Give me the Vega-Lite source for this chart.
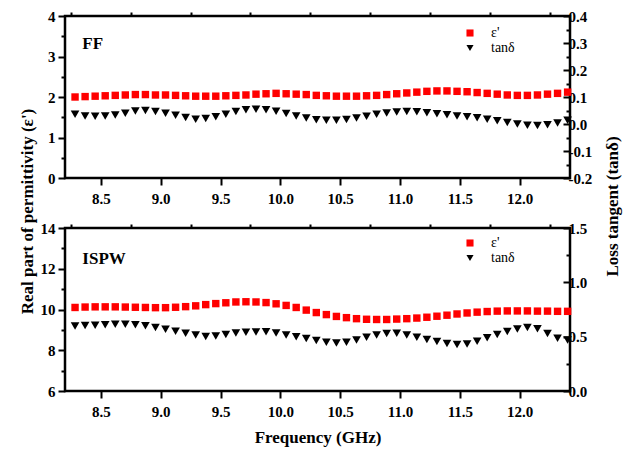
{
  "$schema": "https://vega.github.io/schema/vega-lite/v6.json",
  "padding": {"left": 16, "top": 7, "right": 5, "bottom": 3},
  "background": "white",
  "datasets": {
    "ff": [
      {"f": 8.284, "eps": 2.00, "tan": 0.036},
      {"f": 8.368, "eps": 2.01, "tan": 0.030},
      {"f": 8.452, "eps": 2.02, "tan": 0.029},
      {"f": 8.536, "eps": 2.03, "tan": 0.030},
      {"f": 8.62, "eps": 2.04, "tan": 0.033},
      {"f": 8.704, "eps": 2.05, "tan": 0.040},
      {"f": 8.788, "eps": 2.06, "tan": 0.048},
      {"f": 8.872, "eps": 2.06, "tan": 0.050},
      {"f": 8.956, "eps": 2.05, "tan": 0.046},
      {"f": 9.04, "eps": 2.05, "tan": 0.040},
      {"f": 9.124, "eps": 2.04, "tan": 0.032},
      {"f": 9.208, "eps": 2.03, "tan": 0.024},
      {"f": 9.292, "eps": 2.02, "tan": 0.018},
      {"f": 9.376, "eps": 2.02, "tan": 0.020},
      {"f": 9.46, "eps": 2.02, "tan": 0.027},
      {"f": 9.544, "eps": 2.03, "tan": 0.036},
      {"f": 9.628, "eps": 2.04, "tan": 0.046},
      {"f": 9.712, "eps": 2.05, "tan": 0.053},
      {"f": 9.796, "eps": 2.07, "tan": 0.055},
      {"f": 9.88, "eps": 2.08, "tan": 0.053},
      {"f": 9.964, "eps": 2.09, "tan": 0.047},
      {"f": 10.048, "eps": 2.08, "tan": 0.039},
      {"f": 10.132, "eps": 2.07, "tan": 0.030},
      {"f": 10.216, "eps": 2.06, "tan": 0.022},
      {"f": 10.3, "eps": 2.04, "tan": 0.016},
      {"f": 10.384, "eps": 2.03, "tan": 0.014},
      {"f": 10.468, "eps": 2.02, "tan": 0.014},
      {"f": 10.552, "eps": 2.02, "tan": 0.017},
      {"f": 10.636, "eps": 2.02, "tan": 0.022},
      {"f": 10.72, "eps": 2.03, "tan": 0.029},
      {"f": 10.804, "eps": 2.04, "tan": 0.036},
      {"f": 10.888, "eps": 2.06, "tan": 0.041},
      {"f": 10.972, "eps": 2.08, "tan": 0.044},
      {"f": 11.056, "eps": 2.10, "tan": 0.046},
      {"f": 11.14, "eps": 2.12, "tan": 0.045},
      {"f": 11.224, "eps": 2.14, "tan": 0.042},
      {"f": 11.308, "eps": 2.15, "tan": 0.038},
      {"f": 11.392, "eps": 2.15, "tan": 0.034},
      {"f": 11.476, "eps": 2.14, "tan": 0.030},
      {"f": 11.56, "eps": 2.13, "tan": 0.027},
      {"f": 11.644, "eps": 2.11, "tan": 0.023},
      {"f": 11.728, "eps": 2.09, "tan": 0.018},
      {"f": 11.812, "eps": 2.07, "tan": 0.012},
      {"f": 11.896, "eps": 2.05, "tan": 0.006},
      {"f": 11.98, "eps": 2.04, "tan": 0.000},
      {"f": 12.064, "eps": 2.04, "tan": -0.005},
      {"f": 12.148, "eps": 2.05, "tan": -0.006},
      {"f": 12.232, "eps": 2.07, "tan": -0.003},
      {"f": 12.316, "eps": 2.09, "tan": 0.004},
      {"f": 12.4, "eps": 2.12, "tan": 0.014}
    ],
    "ispw": [
      {"f": 8.284, "eps": 10.10, "tan": 0.598},
      {"f": 8.368, "eps": 10.12, "tan": 0.603},
      {"f": 8.452, "eps": 10.13, "tan": 0.606},
      {"f": 8.536, "eps": 10.13, "tan": 0.610},
      {"f": 8.62, "eps": 10.13, "tan": 0.615},
      {"f": 8.704, "eps": 10.12, "tan": 0.615},
      {"f": 8.788, "eps": 10.11, "tan": 0.610},
      {"f": 8.872, "eps": 10.10, "tan": 0.600},
      {"f": 8.956, "eps": 10.09, "tan": 0.585},
      {"f": 9.04, "eps": 10.09, "tan": 0.568},
      {"f": 9.124, "eps": 10.11, "tan": 0.550},
      {"f": 9.208, "eps": 10.14, "tan": 0.532},
      {"f": 9.292, "eps": 10.18, "tan": 0.515},
      {"f": 9.376, "eps": 10.24, "tan": 0.502},
      {"f": 9.46, "eps": 10.29, "tan": 0.505},
      {"f": 9.544, "eps": 10.33, "tan": 0.520},
      {"f": 9.628, "eps": 10.37, "tan": 0.533},
      {"f": 9.712, "eps": 10.38, "tan": 0.540},
      {"f": 9.796, "eps": 10.37, "tan": 0.543},
      {"f": 9.88, "eps": 10.34, "tan": 0.545},
      {"f": 9.964, "eps": 10.28, "tan": 0.533},
      {"f": 10.048, "eps": 10.20, "tan": 0.515},
      {"f": 10.132, "eps": 10.10, "tan": 0.500},
      {"f": 10.216, "eps": 9.97, "tan": 0.483},
      {"f": 10.3, "eps": 9.85, "tan": 0.465},
      {"f": 10.384, "eps": 9.75, "tan": 0.448},
      {"f": 10.468, "eps": 9.66, "tan": 0.442},
      {"f": 10.552, "eps": 9.60, "tan": 0.448},
      {"f": 10.636, "eps": 9.55, "tan": 0.470},
      {"f": 10.72, "eps": 9.52, "tan": 0.495},
      {"f": 10.804, "eps": 9.51, "tan": 0.515},
      {"f": 10.888, "eps": 9.51, "tan": 0.530},
      {"f": 10.972, "eps": 9.53, "tan": 0.532},
      {"f": 11.056, "eps": 9.55, "tan": 0.515},
      {"f": 11.14, "eps": 9.58, "tan": 0.495},
      {"f": 11.224, "eps": 9.62, "tan": 0.475},
      {"f": 11.308, "eps": 9.67, "tan": 0.455},
      {"f": 11.392, "eps": 9.72, "tan": 0.438},
      {"f": 11.476, "eps": 9.78, "tan": 0.428},
      {"f": 11.56, "eps": 9.83, "tan": 0.432},
      {"f": 11.644, "eps": 9.87, "tan": 0.458},
      {"f": 11.728, "eps": 9.90, "tan": 0.490},
      {"f": 11.812, "eps": 9.92, "tan": 0.520},
      {"f": 11.896, "eps": 9.93, "tan": 0.548},
      {"f": 11.98, "eps": 9.93, "tan": 0.570},
      {"f": 12.064, "eps": 9.93, "tan": 0.585},
      {"f": 12.148, "eps": 9.92, "tan": 0.572},
      {"f": 12.232, "eps": 9.92, "tan": 0.530},
      {"f": 12.316, "eps": 9.91, "tan": 0.485},
      {"f": 12.4, "eps": 9.91, "tan": 0.470}
    ]
  },
  "vconcat": [
    {
      "width": 505,
      "height": 162,
      "data": {"name": "ff"},
      "layer": [
        {
          "mark": {"type": "point", "filled": true, "size": 55, "opacity": 1},
          "encoding": {
            "x": {"field": "f", "type": "quantitative",
              "scale": {"domain": [8.2, 12.42], "nice": false, "zero": false},
              "axis": {"title": null, "values": [8.5, 9, 9.5, 10, 10.5, 11, 11.5, 12],
                "format": ".1f", "tickSize": 7, "labelPadding": 6}},
            "y": {"field": "eps", "type": "quantitative",
              "scale": {"domain": [0, 4], "nice": false, "zero": false},
              "axis": {"title": null, "orient": "left", "values": [0, 1, 2, 3, 4],
                "format": ".0f", "tickSize": 7, "labelPadding": 3}},
            "color": {"datum": "ε'", "type": "nominal",
              "scale": {"domain": ["ε'", "tanδ"], "range": ["#ff0000", "#000000"]},
              "legend": {"title": null, "orient": "none", "legendX": 398, "legendY": 10}},
            "shape": {"datum": "ε'", "type": "nominal",
              "scale": {"domain": ["ε'", "tanδ"], "range": ["square", "triangle-down"]},
              "legend": {"title": null, "orient": "none", "legendX": 398, "legendY": 10}}
          }
        },
        {
          "mark": {"type": "point", "filled": true, "size": 75, "opacity": 1},
          "encoding": {
            "x": {"field": "f", "type": "quantitative", "axis": null},
            "y": {"field": "tan", "type": "quantitative",
              "scale": {"domain": [-0.2, 0.4], "nice": false, "zero": false},
              "axis": {"title": "Loss tangent (tanδ)", "orient": "right", "titleAngle": 270, "titleY": 190, "titlePadding": 30,
                "values": [-0.2, -0.1, 0, 0.1, 0.2, 0.3, 0.4],
                "format": ".1f", "labelExpr": "replace(datum.label, '−', '-')",
                "tickSize": -7, "labelPadding": 5}},
            "color": {"datum": "tanδ", "type": "nominal"},
            "shape": {"datum": "tanδ", "type": "nominal"}
          }
        },
        {
          "data": {"values": [{}]},
          "mark": {"type": "text", "font": "Liberation Serif", "fontWeight": "bold", "fontSize": 17, "align": "left", "baseline": "middle", "color": "black"},
          "encoding": {
            "x": {"datum": 8.345, "type": "quantitative",
              "axis": {"title": null, "labels": false, "tickSize": 4, "values": [8.25, 8.75, 9.25, 9.75, 10.25, 10.75, 11.25, 11.75, 12.25]}},
            "y": {"datum": 3.3, "type": "quantitative", "scale": {"domain": [0, 4], "nice": false, "zero": false},
              "axis": {"title": null, "orient": "left", "labels": false, "tickSize": 4, "values": [0.5, 1.5, 2.5, 3.5]}},
            "text": {"value": "FF"}
          }
        },
        {
          "data": {"values": [{}]},
          "mark": {"type": "text", "opacity": 0},
          "encoding": {
            "x": {"datum": 10, "type": "quantitative", "axis": null},
            "y": {"datum": 0, "type": "quantitative", "scale": {"domain": [-0.2, 0.4], "nice": false, "zero": false},
              "axis": {"title": null, "orient": "right", "labels": false, "tickSize": -4, "values": [-0.15, -0.05, 0.05, 0.15, 0.25, 0.35]}},
            "text": {"value": ""}
          }
        }
      ],
      "resolve": {"scale": {"y": "independent"}, "axis": {"x": "independent"}}
    },
    {
      "width": 505,
      "height": 163,
      "data": {"name": "ispw"},
      "layer": [
        {
          "mark": {"type": "point", "filled": true, "size": 55, "opacity": 1},
          "encoding": {
            "x": {"field": "f", "type": "quantitative",
              "scale": {"domain": [8.2, 12.42], "nice": false, "zero": false},
              "axis": {"title": "Frequency (GHz)", "titlePadding": 10, "values": [8.5, 9, 9.5, 10, 10.5, 11, 11.5, 12],
                "format": ".1f", "tickSize": 7, "labelPadding": 6}},
            "y": {"field": "eps", "type": "quantitative",
              "scale": {"domain": [6, 14], "nice": false, "zero": false},
              "axis": {"title": "Real part of permittivity (ε')", "orient": "left", "titleY": -17, "titlePadding": 4,
                "values": [6, 8, 10, 12, 14], "format": ".0f", "tickSize": 7, "labelPadding": 3}},
            "color": {"datum": "ε'", "type": "nominal",
              "scale": {"domain": ["ε'", "tanδ"], "range": ["#ff0000", "#000000"]},
              "legend": {"title": null, "orient": "none", "legendX": 398, "legendY": 8}},
            "shape": {"datum": "ε'", "type": "nominal",
              "scale": {"domain": ["ε'", "tanδ"], "range": ["square", "triangle-down"]},
              "legend": {"title": null, "orient": "none", "legendX": 398, "legendY": 8}}
          }
        },
        {
          "mark": {"type": "point", "filled": true, "size": 75, "opacity": 1},
          "encoding": {
            "x": {"field": "f", "type": "quantitative", "axis": null},
            "y": {"field": "tan", "type": "quantitative",
              "scale": {"domain": [0, 1.5], "nice": false, "zero": false},
              "axis": {"title": null, "orient": "right", "values": [0, 0.5, 1, 1.5],
                "format": ".1f", "tickSize": -7, "labelPadding": 5}},
            "color": {"datum": "tanδ", "type": "nominal"},
            "shape": {"datum": "tanδ", "type": "nominal"}
          }
        },
        {
          "data": {"values": [{}]},
          "mark": {"type": "text", "font": "Liberation Serif", "fontWeight": "bold", "fontSize": 17, "align": "left", "baseline": "middle", "color": "black"},
          "encoding": {
            "x": {"datum": 8.345, "type": "quantitative",
              "axis": {"title": null, "labels": false, "tickSize": 4, "values": [8.25, 8.75, 9.25, 9.75, 10.25, 10.75, 11.25, 11.75, 12.25]}},
            "y": {"datum": 12.5, "type": "quantitative", "scale": {"domain": [6, 14], "nice": false, "zero": false},
              "axis": {"title": null, "orient": "left", "labels": false, "tickSize": 4, "values": [7, 9, 11, 13]}},
            "text": {"value": "ISPW"}
          }
        },
        {
          "data": {"values": [{}]},
          "mark": {"type": "text", "opacity": 0},
          "encoding": {
            "x": {"datum": 10, "type": "quantitative", "axis": null},
            "y": {"datum": 0.5, "type": "quantitative", "scale": {"domain": [0, 1.5], "nice": false, "zero": false},
              "axis": {"title": null, "orient": "right", "labels": false, "tickSize": -4, "values": [0.25, 0.75, 1.25]}},
            "text": {"value": ""}
          }
        }
      ],
      "resolve": {"scale": {"y": "independent"}, "axis": {"x": "independent"}}
    }
  ],
  "spacing": 50,
  "bounds": "flush",
  "resolve": {"scale": {"color": "independent", "shape": "independent"}, "legend": {"color": "independent", "shape": "independent"}},
  "config": {
    "view": {"stroke": "black", "strokeWidth": 2.5},
    "axis": {
      "domain": false, "grid": false,
      "labelFont": "Liberation Serif", "labelFontWeight": "bold", "labelFontSize": 15, "labelColor": "black",
      "titleFont": "Liberation Serif", "titleFontWeight": "bold", "titleFontSize": 17, "titleColor": "black",
      "tickColor": "black", "tickWidth": 2, "labelFlush": false, "labelOverlap": false
    },
    "legend": {
      "labelFont": "Liberation Serif", "labelFontSize": 14, "labelColor": "black",
      "symbolSize": 50, "symbolStrokeWidth": 0, "labelOffset": 14, "rowPadding": 1, "padding": 0
    }
  }
}
